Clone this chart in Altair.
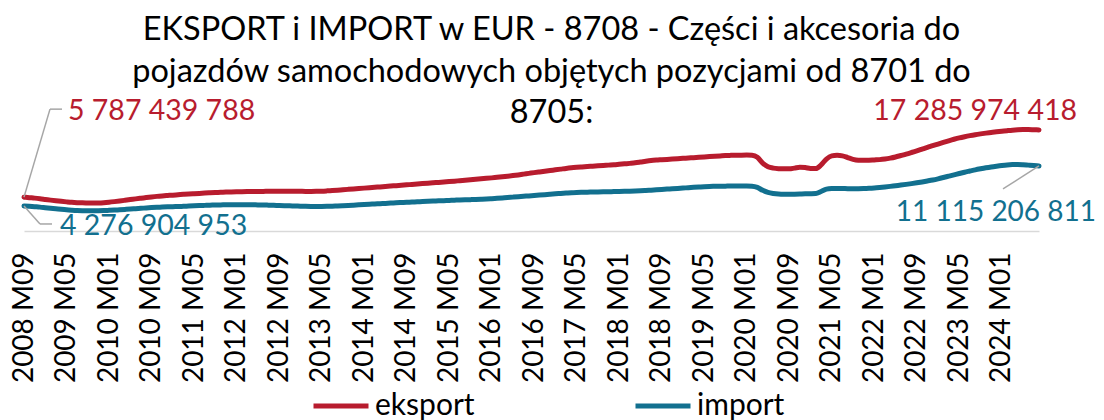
import altair as alt
import pandas as pd

# ---- data (values in billions EUR) ----
start_year, start_month, n_months = 2008, 9, 192
months = []
yy, mm = start_year, start_month
for _ in range(n_months):
    months.append(f"{yy} M{mm:02d}")
    mm += 1
    if mm > 12:
        mm = 1
        yy += 1

eksport = [
    5.787439788, 5.70, 5.62, 5.52,
    5.40, 5.28, 5.17, 5.07, 4.98, 4.90, 4.85, 4.82, 4.79, 4.77, 4.79, 4.84,
    4.92, 5.02, 5.13, 5.25, 5.37, 5.49, 5.60, 5.71, 5.82, 5.92, 6.00, 6.07,
    6.13, 6.20, 6.27, 6.33, 6.38, 6.43, 6.48, 6.53, 6.57, 6.61, 6.65, 6.68,
    6.71, 6.73, 6.75, 6.76, 6.77, 6.77, 6.78, 6.78, 6.78, 6.79, 6.79, 6.79,
    6.78, 6.77, 6.77, 6.78, 6.81, 6.86, 6.92, 6.98, 7.05, 7.12, 7.19, 7.26,
    7.33, 7.40, 7.47, 7.54, 7.61, 7.68, 7.75, 7.82, 7.89, 7.96, 8.03, 8.10,
    8.17, 8.24, 8.31, 8.38, 8.45, 8.52, 8.60, 8.68, 8.76, 8.84, 8.92, 9.00,
    9.08, 9.17, 9.26, 9.36, 9.47, 9.59, 9.72, 9.85, 9.98, 10.10, 10.22, 10.34,
    10.46, 10.58, 10.70, 10.80, 10.88, 10.95, 11.02, 11.08, 11.14, 11.20, 11.26, 11.32,
    11.40, 11.48, 11.56, 11.65, 11.78, 11.92, 12.04, 12.12, 12.18, 12.24, 12.30, 12.36,
    12.42, 12.48, 12.54, 12.60, 12.66, 12.72, 12.78, 12.84, 12.90, 12.93, 12.95, 12.97,
    12.98, 12.95, 12.60, 11.60, 11.00, 10.75, 10.65, 10.62, 10.62, 10.75, 10.90, 10.85,
    10.70, 10.68, 11.30, 12.30, 12.85, 12.95, 12.85, 12.55, 12.25, 12.10, 12.08, 12.10,
    12.15, 12.20, 12.30, 12.45, 12.65, 12.90, 13.15, 13.42, 13.70, 14.00, 14.30, 14.58,
    14.87, 15.15, 15.42, 15.68, 15.92, 16.12, 16.30, 16.46, 16.60, 16.73, 16.85, 16.95,
    17.05, 17.15, 17.24, 17.30, 17.33, 17.33, 17.31, 17.285974418,
]

import_ = [
    4.276904953, 4.22, 4.15, 4.08,
    3.98, 3.88, 3.79, 3.70, 3.62, 3.56, 3.51, 3.48, 3.46, 3.45, 3.46, 3.49,
    3.53, 3.58, 3.63, 3.69, 3.75, 3.82, 3.88, 3.94, 4.00, 4.05, 4.09, 4.13,
    4.16, 4.19, 4.22, 4.26, 4.30, 4.34, 4.38, 4.41, 4.44, 4.46, 4.48, 4.49,
    4.50, 4.50, 4.49, 4.48, 4.46, 4.44, 4.42, 4.39, 4.36, 4.33, 4.30, 4.27,
    4.24, 4.21, 4.19, 4.18, 4.19, 4.21, 4.24, 4.28, 4.32, 4.37, 4.42, 4.47,
    4.52, 4.57, 4.62, 4.67, 4.72, 4.77, 4.82, 4.87, 4.91, 4.95, 4.99, 5.03,
    5.07, 5.11, 5.15, 5.19, 5.23, 5.27, 5.30, 5.33, 5.36, 5.40, 5.44, 5.48,
    5.53, 5.59, 5.65, 5.72, 5.79, 5.86, 5.93, 6.00, 6.07, 6.14, 6.21, 6.28,
    6.35, 6.42, 6.48, 6.54, 6.58, 6.61, 6.64, 6.66, 6.68, 6.70, 6.72, 6.74,
    6.76, 6.78, 6.80, 6.83, 6.87, 6.92, 6.98, 7.04, 7.10, 7.16, 7.22, 7.28,
    7.34, 7.40, 7.46, 7.52, 7.58, 7.62, 7.64, 7.66, 7.67, 7.68, 7.68, 7.68,
    7.68, 7.66, 7.45, 6.95, 6.60, 6.42, 6.32, 6.28, 6.27, 6.30, 6.33, 6.36,
    6.37, 6.40, 6.75, 7.15, 7.25, 7.27, 7.26, 7.24, 7.23, 7.24, 7.26, 7.30,
    7.36, 7.44, 7.53, 7.63, 7.74, 7.85, 7.97, 8.10, 8.24, 8.39, 8.55, 8.72,
    8.92, 9.14, 9.37, 9.60, 9.83, 10.05, 10.25, 10.45, 10.63, 10.80, 10.95, 11.08,
    11.20, 11.30, 11.36, 11.37, 11.33, 11.26, 11.19, 11.115206811,
]

series_names = ["eksport", "import"]
tick_labels = months[::8]
title_lines = [
    "EKSPORT i IMPORT w EUR - 8708 - Części i akcesoria do",
    "pojazdów samochodowych objętych pozycjami od 8701 do",
    "8705:",
]

RED = "#B81C2E"
TEAL = "#12708F"
FONT = "Lato"


def fmt(v):
    return f"{int(round(v * 1e9)):,}".replace(",", " ")


rows = []
for i, mo in enumerate(months):
    rows.append({"month": mo, "series": "eksport", "value": eksport[i] * 1e9})
    rows.append({"month": mo, "series": "import", "value": import_[i] * 1e9})
df = pd.DataFrame(rows)

first_exp = pd.DataFrame([{"month": months[0], "value": eksport[0] * 1e9, "label": fmt(eksport[0])}])
first_imp = pd.DataFrame([{"month": months[0], "value": import_[0] * 1e9, "label": fmt(import_[0])}])
last_exp = pd.DataFrame([{"month": months[-1], "value": eksport[-1] * 1e9, "label": fmt(eksport[-1])}])
last_imp = pd.DataFrame([{"month": months[-1], "value": import_[-1] * 1e9, "label": fmt(import_[-1])}])

x_enc = alt.X(
    "month:O",
    sort=months,
    scale=alt.Scale(type="point", padding=0),
    axis=alt.Axis(
        values=tick_labels,
        title=None,
        labelAngle=270,
        labelFontSize=28,
        labelFont=FONT,
        labelColor="#000000",
        labelPadding=21,
        ticks=False,
        domainColor="#D9D9D9",
        domainWidth=1.5,
        grid=False,
    ),
)
y_enc = alt.Y("value:Q", scale=alt.Scale(domain=[0, 20e9]), axis=None)

lines = alt.Chart(df).mark_line(strokeWidth=5, strokeCap="round", interpolate="monotone").encode(
    x=x_enc,
    y=y_enc,
    color=alt.Color(
        "series:N",
        scale=alt.Scale(domain=series_names, range=[RED, TEAL]),
        legend=alt.Legend(
            title=None,
            orient="none",
            legendX=287,
            legendY=262,
            direction="horizontal",
            symbolType="stroke",
            symbolStrokeWidth=5,
            symbolSize=3025,
            labelFontSize=30,
            labelFont=FONT,
            labelColor="#000000",
            columnPadding=150,
            labelOffset=4,
            padding=0,
        ),
    ),
)


def leader(d, p1, p2):
    return alt.Chart(d).mark_rule(color="#A6A6A6", strokeWidth=1.5,
                                  xOffset=p1[0], yOffset=p1[1],
                                  x2Offset=p2[0], y2Offset=p2[1]).encode(
        x=alt.X("month:O", sort=months), y="value:Q", x2="month", y2="value")


def label(d, color, dx, dy, align, size=28.5):
    return alt.Chart(d).mark_text(color=color, font=FONT, fontSize=size, dx=dx, dy=dy,
                                  align=align, baseline="middle").encode(
        x=alt.X("month:O", sort=months), y="value:Q", text="label:N")


layers = [
    lines,
    leader(first_exp, (0, 0), (26, -88)),
    leader(first_exp, (26, -88), (38, -88)),
    leader(first_imp, (0, 0), (16, 18)),
    leader(first_imp, (16, 18), (28, 18)),
    leader(last_imp, (0, 0), (-36, 23)),
    label(first_exp, RED, 44, -86, "left"),
    label(first_imp, TEAL, 36, 20, "left"),
    label(last_exp, RED, 38, -19, "right"),
    label(last_imp, TEAL, 57, 47, "right", 28),
]

chart = alt.layer(*layers).properties(
    width=1015,
    height=117,
    title=alt.TitleParams(
        text=title_lines,
        font=FONT,
        fontSize=32.5,
        fontWeight="normal",
        color="#000000",
        lineHeight=41.5,
        anchor="middle",
        offset=-33,
        dx=20,
    ),
    autosize=alt.AutoSizeParams(type="none"),
    padding={"left": 16, "top": 106, "right": 57, "bottom": 189},
).configure_view(stroke=None)

chart.save("out.html", embed_options={"renderer": "svg", "actions": False})
